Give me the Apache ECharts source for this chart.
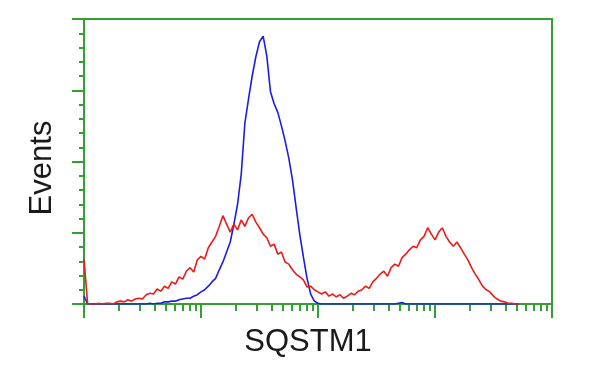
<!DOCTYPE html>
<html><head><meta charset="utf-8">
<script src="https://cdn.jsdelivr.net/npm/echarts@6/dist/echarts.min.js"></script>
<style>html,body{margin:0;padding:0;background:#fff}#c{width:600px;height:375px}</style>
</head><body><div id="c"></div>
<script>
// Histogram bins: channel numbers (256 channels per decade, 4 decades)
var channels = [0,8,16,24,32,40,48,56,64,72,80,88,96,104,112,120,128,136,144,152,
160,168,176,184,192,200,208,216,224,232,240,248,256,264,272,280,288,296,304,312,
320,328,336,344,352,360,368,376,384,392,400,408,416,424,432,440,448,456,464,472,
480,488,496,504,512,520,528,536,544,552,560,568,576,584,592,600,608,616,624,632,
640,648,656,664,672,680,688,696,704,712,720,728,736,744,752,760,768,776,784,792,
800,808,816,824,832,840,848,856,864,872,880,888,896,904,912,920,928,936,944,952];

var redEvents = [63,0,0,0,1,0,1,1,0,3, 4,3,6,4,7,8,7,13,15,14,
21,18,25,22,31,28,38,35,46,51, 45,62,67,63,79,87,95,109,124,112,
101,112,104,118,109,121,126,115,107,98, 93,81,84,70,73,59,56,48,42,38,
34,24,25,20,17,14,17,11,14,10, 13,8,11,15,13,18,20,25,22,31,
36,42,46,39,51,56,53,65,70,76, 81,79,90,95,107,98,90,101,107,95,
87,81,87,79,70,62,51,42,34,25, 20,17,11,7,4,3,1,1,0,0];

var blueEvents = [11,0,0,0,0,0,0,0,0,0, 0,0,0,0,0,0,0,0,1,0,
1,1,3,3,4,4,6,7,8,8, 11,13,17,20,25,31,36,48,59,73,
87,112,140,182,254,288,320,347,368,376, 348,298,281,269,250,229,205,175,136,98,
66,36,14,4,1,0,0,0,0,0, 0,0,0,0,0,0,0,0,0,0,
0,0,0,0,0,0,1,2,0,0, 0,0,0,0,0,0,0,0,0,0,
0,0,0,0,0,0,0,0,0,0, 0,0,0,0,0,0,0,0,0,0];

var decadeTicks = [0,256,512,768,1024];
var yTicks = [0,100,200,300,400];
var xTitle = 'SQSTM1';
var yTitle = 'Events';

var minorTicks = [];
for (var d = 0; d < 4; d++) for (var k = 2; k <= 9; k++) minorTicks.push(256 * d + 256 * Math.log10(k));

function pairs(xs, ys){ return xs.map(function(x,i){ return [x, ys[i]]; }); }

var green = '#34a034';
var chart = echarts.init(document.getElementById('c'), null, {renderer:'canvas'});
chart.setOption({
  animation: false,
  backgroundColor: '#fff',
  grid: {left: 84, right: 48, top: 19, bottom: 71, show: true, borderColor: green, borderWidth: 2, backgroundColor: 'transparent'},
  xAxis: [
    {type: 'value', min: 0, max: 1024, axisLine: {show: true, lineStyle: {color: green, width: 2}},
     axisTick: {show: true, customValues: decadeTicks, length: 14, lineStyle: {color: green, width: 2}},
     axisLabel: {show: false}, splitLine: {show: false}},
    {type: 'value', min: 0, max: 1024, position: 'bottom', axisLine: {show: false},
     axisTick: {show: true, customValues: minorTicks, length: 7, lineStyle: {color: green, width: 2}},
     axisLabel: {show: false}, splitLine: {show: false}}
  ],
  yAxis: {type: 'value', min: 0, max: 400, interval: 100,
    axisLine: {show: true, lineStyle: {color: green, width: 2}},
    axisTick: {show: true, length: 12, lineStyle: {color: green, width: 2}},
    minorTick: {show: true, splitNumber: 5, length: 5, lineStyle: {color: green, width: 2}},
    axisLabel: {show: false}, splitLine: {show: false}},
  series: [
    {type: 'line', data: pairs(channels, blueEvents), showSymbol: false, symbol: 'none',
     lineStyle: {color: '#1c1ce8', width: 1.6}, itemStyle: {color: '#1c1ce8'}, z: 3},
    {type: 'line', data: pairs(channels, redEvents), showSymbol: false, symbol: 'none',
     lineStyle: {color: '#ee1a1a', width: 1.6}, itemStyle: {color: '#ee1a1a'}, z: 4}
  ],
  graphic: [
    {type: 'text', x: 308, y: 342, style: {text: xTitle, font: '31px "Liberation Sans", Arial, sans-serif', fill: '#1a1a1a', align: 'center', verticalAlign: 'middle'}},
    {type: 'text', x: 42, y: 168, rotation: Math.PI / 2, style: {text: yTitle, font: '31px "Liberation Sans", Arial, sans-serif', fill: '#1a1a1a', align: 'center', verticalAlign: 'middle'}}
  ]
});
</script></body></html>
